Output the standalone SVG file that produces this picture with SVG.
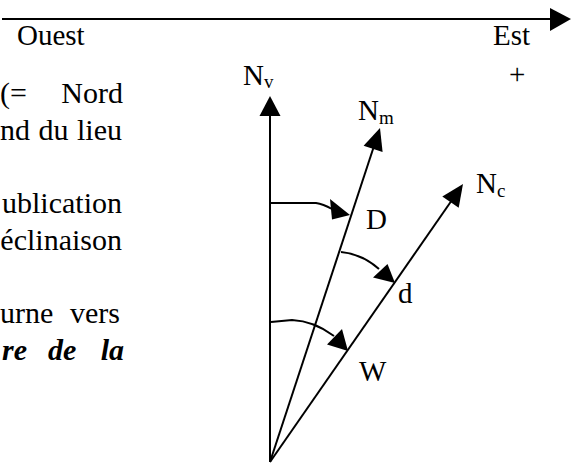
<svg xmlns="http://www.w3.org/2000/svg" width="575" height="463" viewBox="0 0 575 463">
<style>
text{font-family:"Liberation Serif","Times New Roman",serif;fill:#000}
.lbl{font-size:29px}
.sub{font-size:19px}
.body{font-size:30px}
.bi{font-weight:bold;font-style:italic}
.ln{stroke:#000;stroke-width:2;fill:none}
.head{fill:#000;stroke:none}
</style>
<rect width="575" height="463" fill="#fff"/>
<g id="body-text" class="body">
<text y="103"><tspan x="0">(=</tspan><tspan x="123" text-anchor="end">Nord</tspan></text>
<text y="140"><tspan x="0">nd</tspan><tspan x="38.5">du</tspan><tspan x="122" text-anchor="end">lieu</tspan></text>
<text x="122" y="213" text-anchor="end">ublication</text>
<text x="122" y="250" text-anchor="end">éclinaison</text>
<text y="323"><tspan x="0">urne</tspan><tspan x="120" text-anchor="end">vers</tspan></text>
<text y="360" class="bi"><tspan x="2">re</tspan><tspan x="48">de</tspan><tspan x="124" text-anchor="end">la</tspan></text>
</g>
<g id="axis-ouest-est">
<line class="ln" x1="2" y1="19" x2="552" y2="19"/>
<polygon class="head" points="550,8 571,19 550,31"/>
<text class="lbl" x="17" y="45">Ouest</text>
<text class="lbl" x="493" y="45">Est</text>
<text class="lbl" x="509" y="84">+</text>
</g>
<g id="connectors">
<line class="ln" x1="270" y1="462" x2="270" y2="112"/>
<line class="ln" x1="270" y1="462" x2="375" y2="143"/>
<line class="ln" x1="270" y1="462" x2="452" y2="200"/>
<polygon class="head" points="270,96 259.5,116 280.5,116"/>
<polygon class="head" points="380,128 382.6,152 363.6,145.8"/>
<polygon class="head" points="463,184 458.7,207.8 442.3,196.4"/>
<path class="ln" d="M271,203 L316,203 Q323,204 332,209"/>
<polygon class="head" points="330,199 332,219.5 350,215"/>
<path class="ln" d="M341,252 Q362,254 379,269"/>
<polygon class="head" points="373,277.5 387.5,264 395,283"/>
<path class="ln" d="M271,322 L292,320 Q314,321 334,336"/>
<polygon class="head" points="327,344.5 342,329 348,351"/>
</g>
<g id="node-Nv"><text class="lbl" x="243" y="85">N<tspan class="sub" dy="3">v</tspan></text></g>
<g id="node-Nm"><text class="lbl" x="358" y="120">N<tspan class="sub" dy="4">m</tspan></text></g>
<g id="node-Nc"><text class="lbl" x="476" y="193">N<tspan class="sub" dy="4">c</tspan></text></g>
<g id="label-D"><text class="lbl" x="366" y="229">D</text></g>
<g id="label-d"><text class="lbl" x="398" y="303">d</text></g>
<g id="label-W"><text class="lbl" x="359" y="381">W</text></g>
</svg>
